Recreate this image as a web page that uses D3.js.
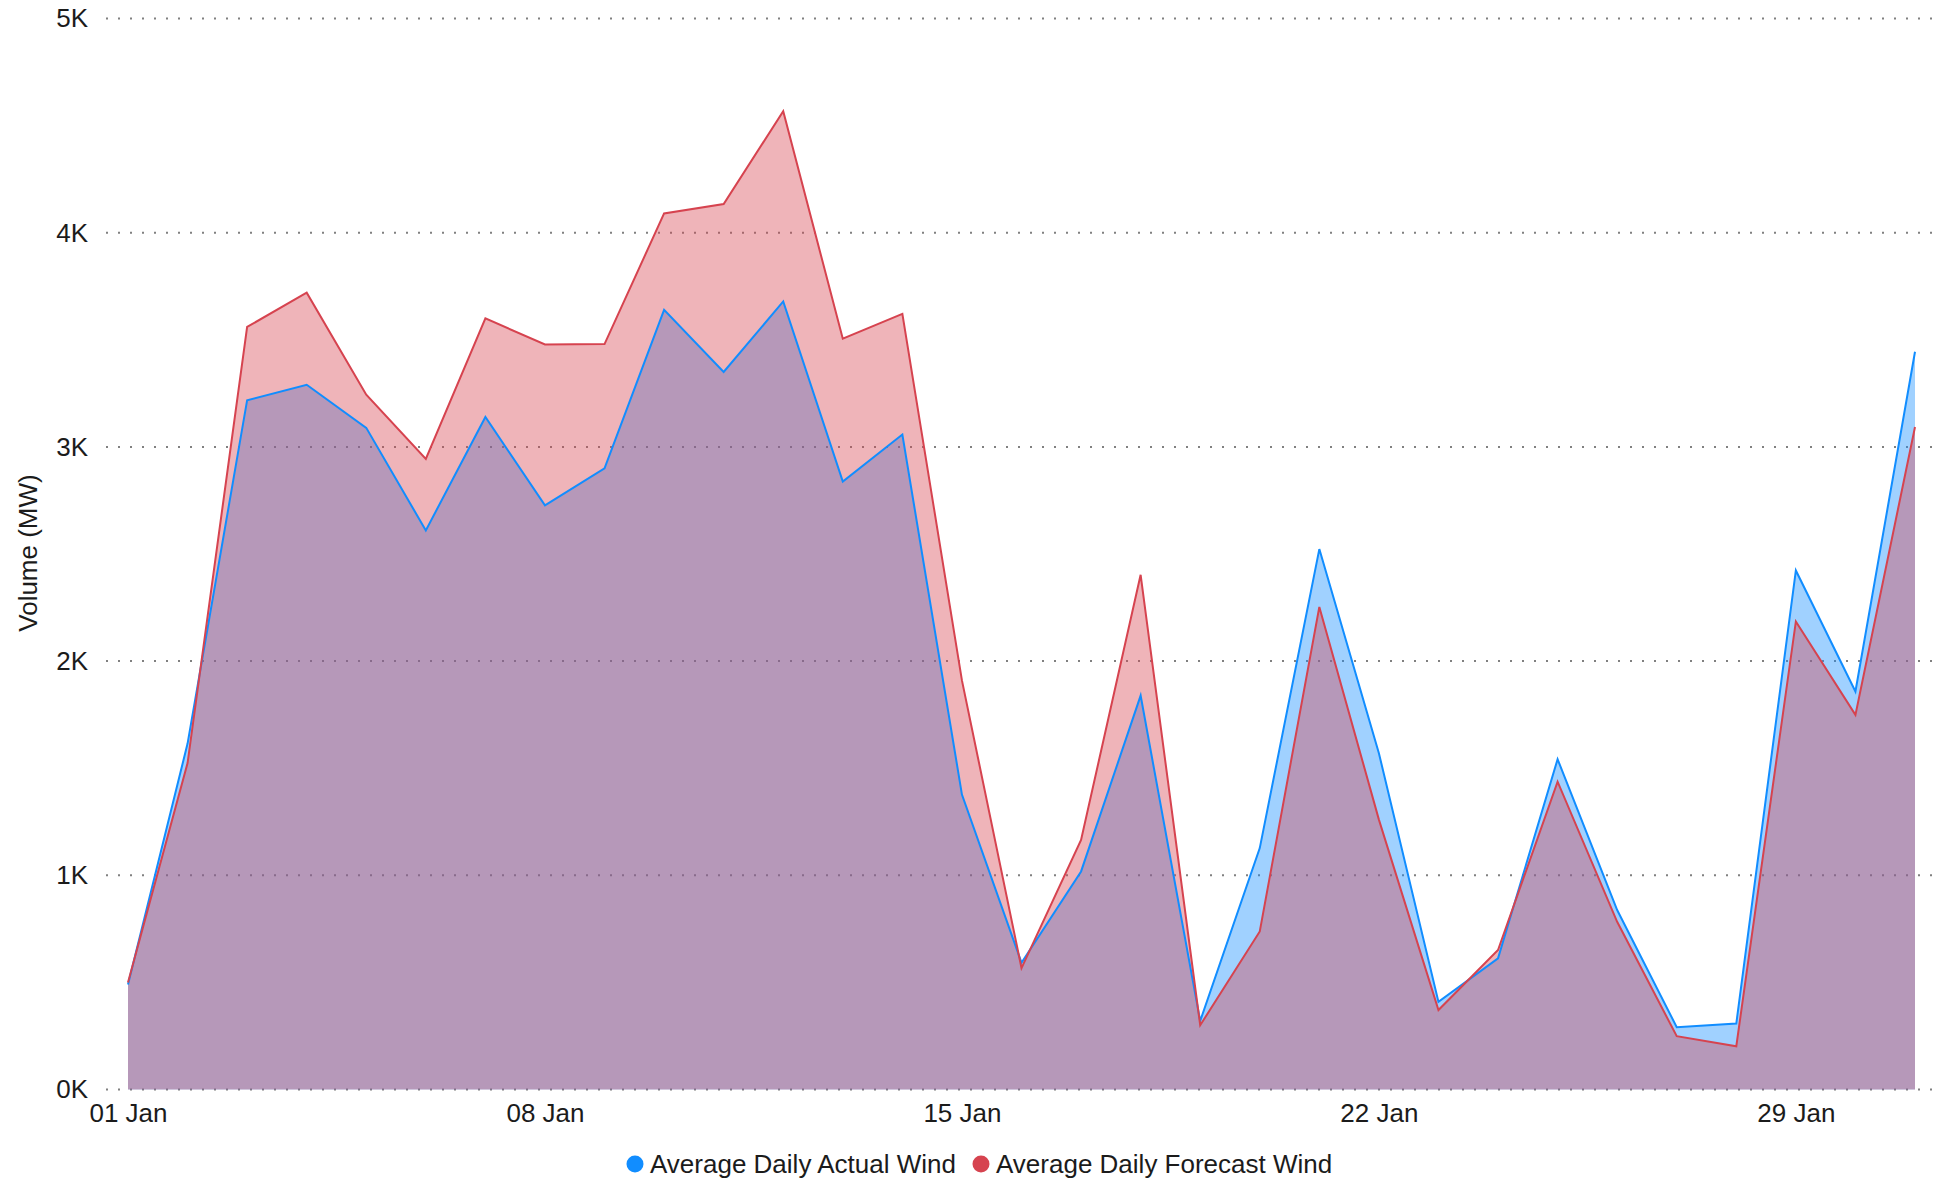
<!DOCTYPE html>
<html>
<head>
<meta charset="utf-8">
<script src="https://cdn.jsdelivr.net/npm/d3@7"></script>
<style>
  html, body { margin: 0; padding: 0; background: #ffffff; }
  svg { display: block; }
  text { font-family: "Liberation Sans", Arial, sans-serif; fill: #1b1b1b; }
</style>
</head>
<body>
<svg id="chart" width="1946" height="1182"></svg>
<script>
// ---- Data ----
const days = d3.range(1, 32).map(d => new Date(Date.UTC(2024, 0, d)));
const actualWind = [490, 1615, 3218, 3290, 3089, 2610, 3140, 2727, 2900, 3640, 3350, 3679, 2838, 3058, 1377, 592, 1018, 1839, 320, 1127, 2523, 1570, 409, 612, 1542, 838, 291, 308, 2423, 1858, 3444];
const forecastWind = [500, 1524, 3560, 3720, 3244, 2944, 3600, 3478, 3480, 4090, 4134, 4567, 3505, 3621, 1910, 567, 1165, 2403, 300, 738, 2253, 1260, 371, 651, 1437, 783, 249, 202, 2185, 1749, 3093];
const seriesNames = ["Average Daily Actual Wind", "Average Daily Forecast Wind"];
const yTicks = [0, 1000, 2000, 3000, 4000, 5000];
const xTickDays = [1, 8, 15, 22, 29];
const yTitle = "Volume (MW)";

// ---- Layout ----
const svg = d3.select("#chart");
const plotLeft = 128, plotRight = 1915, plotTop = 18.5, plotBottom = 1089.5;
const gridLeft = 106, gridRight = 1934;
const blue = "#118DFF", red = "#D6434F";
const fontFamily = '"Liberation Sans", Arial, sans-serif';

const x = d3.scaleUtc().domain([days[0], days[days.length - 1]]).range([plotLeft, plotRight]);
const y = d3.scaleLinear().domain([0, 5000]).range([plotBottom, plotTop]);

// gridlines
svg.append("g").selectAll("line").data(yTicks).join("line")
  .attr("x1", gridLeft).attr("x2", gridRight)
  .attr("y1", d => y(d)).attr("y2", d => y(d))
  .attr("stroke", "#808080").attr("stroke-width", 2)
  .attr("stroke-dasharray", "2 10");

// areas
const actualData = days.map((d, i) => ({ date: d, v: actualWind[i] }));
const forecastData = days.map((d, i) => ({ date: d, v: forecastWind[i] }));
const area = d3.area().x(d => x(d.date)).y0(y(0)).y1(d => y(d.v));
const line = d3.line().x(d => x(d.date)).y(d => y(d.v));

svg.append("path").datum(actualData).attr("d", area).attr("fill", blue).attr("fill-opacity", 0.4);
svg.append("path").datum(forecastData).attr("d", area).attr("fill", red).attr("fill-opacity", 0.4);
svg.append("path").datum(actualData).attr("d", line).attr("fill", "none").attr("stroke", blue).attr("stroke-width", 2);
svg.append("path").datum(forecastData).attr("d", line).attr("fill", "none").attr("stroke", red).attr("stroke-width", 2);

// y axis
const yAxis = svg.append("g").attr("transform", `translate(${gridLeft},0)`)
  .call(d3.axisLeft(y).tickValues(yTicks).tickSize(0).tickPadding(18).tickFormat(d => (d / 1000) + "K"));
yAxis.select(".domain").remove();
yAxis.selectAll("text").style("font-size", "26px").attr("fill", "#1b1b1b").style("font-family", fontFamily);

// x axis
const xAxis = svg.append("g").attr("transform", `translate(0,${plotBottom})`)
  .call(d3.axisBottom(x).tickValues(xTickDays.map(d => days[d - 1])).tickSize(0).tickPadding(14).tickFormat(d3.utcFormat("%d %b")));
xAxis.select(".domain").remove();
xAxis.selectAll("text").style("font-size", "26px").attr("fill", "#1b1b1b").style("font-family", fontFamily);

// y title
svg.append("text")
  .attr("transform", "translate(37,553) rotate(-90)")
  .attr("text-anchor", "middle")
  .style("font-size", "26px")
  .text(yTitle);

// legend
const legendY = 1164;
const legendItems = [
  { name: seriesNames[0], color: blue, cx: 635, tx: 650 },
  { name: seriesNames[1], color: red, cx: 981, tx: 996 }
];
const lg = svg.append("g");
legendItems.forEach(it => {
  lg.append("circle").attr("cx", it.cx).attr("cy", legendY).attr("r", 8.5).attr("fill", it.color);
  lg.append("text").attr("x", it.tx).attr("y", legendY).attr("dy", "0.35em")
    .style("font-size", "26px").text(it.name);
});
</script>
</body>
</html>
